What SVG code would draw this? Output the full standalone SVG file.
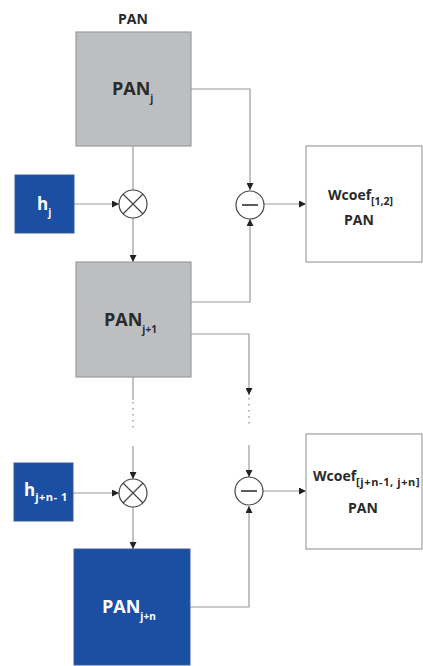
<svg xmlns="http://www.w3.org/2000/svg" width="423" height="666" viewBox="0 0 423 666">
<style>
.gray{fill:#bcbec0;stroke:#9c9c9c;stroke-width:1.2}
.blue{fill:#1b4fa3;stroke:#3a5f9a;stroke-width:1}
.white{fill:#fff;stroke:#a0a0a0;stroke-width:1.2}
.op{fill:#fff;stroke:#444;stroke-width:1.2}
.t{font-family:"Open Sans","Liberation Sans",sans-serif;font-weight:bold;fill:#2a2a2a}
.tw{font-family:"Open Sans","Liberation Sans",sans-serif;font-weight:bold;fill:#fff}
.ln{fill:none;stroke:#9a9a9a;stroke-width:1.2}
.dot{fill:none;stroke:#999;stroke-width:1.4;stroke-dasharray:1.5 4.5}
</style>
<defs>
<marker id="ar" viewBox="0 0 10 10" refX="10" refY="5" markerWidth="7" markerHeight="7" markerUnits="userSpaceOnUse" orient="auto">
<path d="M0,0L10,5L0,10z" fill="#222"/>
</marker>
</defs>
<g id="connectors">
<path class="ln" d="M133,146V190"/>
<path class="ln" d="M133,218V262" marker-end="url(#ar)"/>
<path class="ln" d="M74,204H119" marker-end="url(#ar)"/>
<path class="ln" d="M191,89H250V190" marker-end="url(#ar)"/>
<path class="ln" d="M191,302H250V219" marker-end="url(#ar)"/>
<path class="ln" d="M264,204H306" marker-end="url(#ar)"/>
<path class="ln" d="M133,377V400"/>
<path class="dot" d="M133,402V430"/>
<path class="ln" d="M133,446V479" marker-end="url(#ar)"/>
<path class="ln" d="M73,493H119" marker-end="url(#ar)"/>
<path class="ln" d="M133,507V549" marker-end="url(#ar)"/>
<path class="ln" d="M191,334H249V395" marker-end="url(#ar)"/>
<path class="dot" d="M249,398V428"/>
<path class="ln" d="M249,445V477" marker-end="url(#ar)"/>
<path class="ln" d="M190,607H249V506" marker-end="url(#ar)"/>
<path class="ln" d="M263,491H306" marker-end="url(#ar)"/>
</g>
<g id="pan-label"><text class="t" x="133" y="24" font-size="14" text-anchor="middle">PAN</text></g>
<g id="panj">
<rect class="gray" x="76" y="32" width="115" height="114"/>
<text class="t" x="112" y="95" font-size="18">PAN<tspan font-size="10" dy="7">j</tspan></text>
</g>
<g id="hj">
<rect class="blue" x="15" y="175" width="59" height="58"/>
<text class="tw" x="37" y="210" font-size="17">h<tspan font-size="10" dy="6">j</tspan></text>
</g>
<g id="mult1">
<circle class="op" cx="133" cy="204" r="14"/>
<path d="M123,194L143,214M143,194L123,214" stroke="#444" stroke-width="1.2"/>
</g>
<g id="sub1">
<circle class="op" cx="250" cy="205" r="14"/>
<path d="M242,205H258" stroke="#333" stroke-width="1.6"/>
</g>
<g id="wcoef1">
<rect class="white" x="306" y="146" width="116" height="116"/>
<text class="t" x="328" y="200" font-size="14">Wcoef<tspan font-size="10.5" dy="5">[1,2]</tspan></text>
<text class="t" x="359" y="225" font-size="14" text-anchor="middle">PAN</text>
</g>
<g id="panj1">
<rect class="gray" x="76" y="262" width="115" height="115"/>
<text class="t" x="104" y="326" font-size="18">PAN<tspan font-size="10" dy="7">j+1</tspan></text>
</g>
<g id="hjn1">
<rect class="blue" x="14" y="463" width="59" height="58"/>
<text class="tw" x="24" y="496" font-size="17">h<tspan font-size="11" dy="5" letter-spacing="0.5">j+n- 1</tspan></text>
</g>
<g id="mult2">
<circle class="op" cx="133" cy="493" r="14"/>
<path d="M123,483L143,503M143,483L123,503" stroke="#444" stroke-width="1.2"/>
</g>
<g id="sub2">
<circle class="op" cx="249" cy="491" r="14"/>
<path d="M241,491H257" stroke="#333" stroke-width="1.6"/>
</g>
<g id="wcoef2">
<rect class="white" x="306" y="434" width="116" height="115"/>
<text class="t" x="313" y="481" font-size="14">Wcoef<tspan font-size="11" dy="5" letter-spacing="0.6">[j+n-1, j+n]</tspan></text>
<text class="t" x="363" y="513" font-size="14" text-anchor="middle">PAN</text>
</g>
<g id="panjn">
<rect class="blue" x="74" y="549" width="116" height="116"/>
<text class="tw" x="102" y="613" font-size="18">PAN<tspan font-size="10" dy="7">j+n</tspan></text>
</g>
</svg>
